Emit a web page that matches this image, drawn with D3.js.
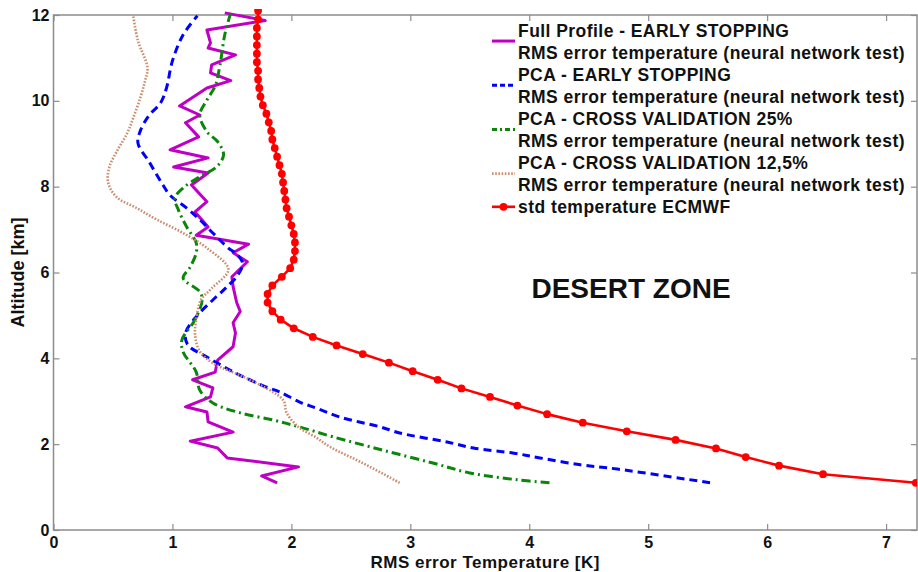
<!DOCTYPE html>
<html>
<head>
<meta charset="utf-8">
<script src="https://cdn.jsdelivr.net/npm/d3@7"></script>
<style>
  html, body { margin: 0; background: #fff; }
  svg { display: block; font-family: "Liberation Sans", Arial, sans-serif; }
</style>
</head>
<body>
<svg id="chart" width="918" height="572"></svg>
<script>
(function () {
  "use strict";

  // --- data (altitude km, RMS K) ---
  const fullAlt = [1.10, 1.26, 1.47, 1.68, 1.91, 2.07, 2.28, 2.52, 2.75, 2.87, 3.10, 3.31, 3.50, 3.68, 3.96, 4.27, 4.59, 4.83, 5.09, 5.30, 5.67, 5.90, 6.25, 6.46, 6.66, 6.87, 7.06, 7.41, 7.65, 8.04, 8.32, 8.46, 8.67, 8.86, 9.16, 9.49, 9.67, 9.88, 10.30, 10.47, 10.65, 10.84, 11.07, 11.23, 11.35, 11.65, 11.87, 12.05];
  const fullRms = [1.88, 1.75, 2.06, 1.46, 1.38, 1.15, 1.51, 1.30, 1.29, 1.11, 1.32, 1.34, 1.17, 1.36, 1.38, 1.51, 1.53, 1.51, 1.57, 1.54, 1.51, 1.50, 1.63, 1.51, 1.64, 1.20, 1.30, 1.19, 1.29, 1.16, 1.30, 1.01, 1.30, 0.98, 1.22, 1.11, 1.23, 1.06, 1.29, 1.49, 1.32, 1.33, 1.53, 1.30, 1.32, 1.29, 1.78, 1.44];

  const pcaEsAlt = [1.10, 1.42, 1.52, 1.68, 1.79, 1.91, 2.05, 2.26, 2.40, 2.63, 2.84, 2.98, 3.22, 3.33, 3.66, 4.03, 4.31, 4.59, 4.97, 5.36, 5.67, 5.94, 6.22, 6.45, 6.57, 6.92, 7.23, 7.50, 7.80, 8.04, 8.55, 9.02, 9.30, 9.65, 9.95, 10.30, 10.93, 11.54, 11.98];
  const pcaEsRms = [5.52, 4.74, 4.43, 4.09, 3.87, 3.53, 3.31, 2.91, 2.75, 2.41, 2.21, 2.07, 1.90, 1.79, 1.53, 1.29, 1.13, 1.11, 1.20, 1.34, 1.46, 1.55, 1.59, 1.53, 1.47, 1.34, 1.23, 1.12, 0.98, 0.92, 0.81, 0.71, 0.73, 0.80, 0.90, 0.95, 1.00, 1.09, 1.21];

  const cv25Alt = [1.10, 1.17, 1.33, 1.56, 1.86, 2.17, 2.40, 2.56, 2.73, 2.96, 3.26, 3.68, 4.15, 4.43, 4.90, 5.36, 5.55, 5.87, 6.13, 6.46, 6.69, 7.06, 7.46, 7.73, 7.97, 8.23, 8.46, 8.74, 9.05, 9.28, 9.67, 10.02, 10.35, 10.84, 11.54, 12.05];
  const cv25Rms = [4.17, 3.90, 3.50, 3.19, 2.77, 2.35, 2.07, 1.85, 1.57, 1.34, 1.23, 1.20, 1.09, 1.08, 1.19, 1.25, 1.23, 1.09, 1.15, 1.20, 1.20, 1.12, 1.05, 1.02, 1.09, 1.23, 1.37, 1.43, 1.38, 1.29, 1.23, 1.29, 1.36, 1.40, 1.44, 1.49];

  const cv125Alt = [1.10, 1.56, 1.93, 2.17, 2.40, 2.73, 3.03, 3.50, 3.89, 4.16, 4.55, 4.90, 5.36, 5.63, 6.07, 6.55, 6.92, 7.23, 7.50, 7.76, 8.09, 8.46, 8.86, 9.25, 9.60, 10.07, 10.47, 10.77, 11.40, 11.98];
  const cv125Rms = [2.91, 2.60, 2.33, 2.20, 2.06, 1.96, 1.93, 1.65, 1.34, 1.23, 1.19, 1.20, 1.24, 1.33, 1.47, 1.30, 1.09, 0.87, 0.70, 0.53, 0.46, 0.47, 0.54, 0.62, 0.67, 0.73, 0.77, 0.79, 0.71, 0.67];

  const stdAlt = [1.1, 1.3, 1.5, 1.7, 1.9, 2.1, 2.3, 2.5, 2.7, 2.9, 3.1, 3.3, 3.5, 3.7, 3.9, 4.1, 4.3, 4.5, 4.7, 4.9, 5.1, 5.3, 5.5, 5.7, 5.9, 6.1, 6.3, 6.5, 6.7, 6.9, 7.1, 7.3, 7.5, 7.7, 7.9, 8.1, 8.3, 8.5, 8.7, 8.9, 9.1, 9.3, 9.5, 9.7, 9.9, 10.1, 10.3, 10.5, 10.7, 10.9, 11.1, 11.3, 11.5, 11.7, 11.9, 12.1];
  const stdTemp = [7.25, 6.47, 6.10, 5.82, 5.57, 5.23, 4.82, 4.45, 4.15, 3.90, 3.67, 3.43, 3.23, 3.02, 2.82, 2.60, 2.38, 2.18, 2.02, 1.91, 1.84, 1.80, 1.80, 1.84, 1.92, 1.99, 2.02, 2.03, 2.03, 2.02, 2.00, 1.98, 1.96, 1.95, 1.94, 1.93, 1.92, 1.90, 1.88, 1.86, 1.84, 1.83, 1.81, 1.79, 1.76, 1.74, 1.73, 1.72, 1.72, 1.71, 1.71, 1.71, 1.71, 1.71, 1.72, 1.72];

  const xTicks = [0, 1, 2, 3, 4, 5, 6, 7];
  const yTicks = [0, 2, 4, 6, 8, 10, 12];

  const legendLabels = [
    ["Full Profile - EARLY STOPPING", "RMS error temperature (neural network test)"],
    ["PCA - EARLY STOPPING", "RMS error temperature (neural network test)"],
    ["PCA - CROSS VALIDATION 25%", "RMS error temperature (neural network test)"],
    ["PCA - CROSS VALIDATION 12,5%", "RMS error temperature (neural network test)"],
    ["std temperature ECMWF"],
  ];

  // --- styles per series ---
  const SERIES = [
    { alt: fullAlt, val: fullRms, color: "#bf00c4", width: 3, dash: null, legendDash: null, curve: d3.curveLinear },
    { alt: pcaEsAlt, val: pcaEsRms, color: "#0000ff", width: 3, dash: "8,5", legendDash: "5,3", curve: d3.curveCatmullRom },
    { alt: cv25Alt, val: cv25Rms, color: "#0a860a", width: 3, dash: "9,4,2,4", legendDash: "5,3,2,3", curve: d3.curveCatmullRom },
    { alt: cv125Alt, val: cv125Rms, color: "#cc8c6e", width: 2.6, dash: "1.6,1.6", legendDash: "1.6,1.6", curve: d3.curveCatmullRom },
    { alt: stdAlt, val: stdTemp, color: "#ff0000", width: 2.6, dash: null, legendDash: null, curve: d3.curveLinear, markers: true },
  ];

  const svg = d3.select("#chart");
  const frameColor = "#8c8c8c";

  const x = d3.scaleLinear().domain([0, 7.26]).range([53.5, 917]);
  const y = d3.scaleLinear().domain([0, 12]).range([530, 15]);

  const [x0, x1] = x.range();
  const [yb, yt] = y.range();

  svg.append("defs").append("clipPath").attr("id", "plot-clip")
    .append("rect")
    .attr("x", x0).attr("y", yt - 6)
    .attr("width", x1 - x0).attr("height", yb - yt + 6);

  // --- axes (inward ticks on all four sides) ---
  function styleAxis(g) {
    g.select(".domain").remove();
    g.selectAll(".tick line").attr("stroke", frameColor).attr("stroke-width", 1.2);
    g.selectAll(".tick text")
      .attr("fill", "#111")
      .style("font-size", "16px")
      .style("font-weight", "bold");
  }

  svg.append("g")
    .attr("transform", `translate(0,${yb})`)
    .call(d3.axisBottom(x).tickValues(xTicks).tickSize(-6).tickPadding(7).tickFormat(d3.format("d")))
    .call(styleAxis);

  svg.append("g")
    .attr("transform", `translate(0,${yt})`)
    .call(d3.axisTop(x).tickValues(xTicks).tickSize(-6).tickFormat(""))
    .call(styleAxis);

  svg.append("g")
    .attr("transform", `translate(${x0},0)`)
    .call(d3.axisLeft(y).tickValues(yTicks).tickSize(-6).tickPadding(4).tickFormat(d3.format("d")))
    .call(styleAxis);

  svg.append("g")
    .attr("transform", `translate(${x1},0)`)
    .call(d3.axisRight(y).tickValues(yTicks).tickSize(-6).tickFormat(""))
    .call(styleAxis);

  svg.append("rect")
    .attr("x", x0).attr("y", yt)
    .attr("width", x1 - x0).attr("height", yb - yt)
    .attr("fill", "none")
    .attr("stroke", frameColor)
    .attr("stroke-width", 1.5);

  // --- curves ---
  const plot = svg.append("g").attr("clip-path", "url(#plot-clip)");

  SERIES.forEach((s) => {
    const pts = s.alt.map((a, i) => [s.val[i], a]);
    const line = d3.line().x((d) => x(d[0])).y((d) => y(d[1])).curve(s.curve);
    plot.append("path")
      .datum(pts)
      .attr("d", line)
      .attr("fill", "none")
      .attr("stroke", s.color)
      .attr("stroke-width", s.width)
      .attr("stroke-linejoin", "round")
      .attr("stroke-dasharray", s.dash);
    if (s.markers) {
      plot.append("g").selectAll("circle")
        .data(pts)
        .join("circle")
        .attr("cx", (d) => x(d[0]))
        .attr("cy", (d) => y(d[1]))
        .attr("r", 3.9)
        .attr("fill", s.color);
    }
  });

  // --- legend ---
  const legend = svg.append("g").attr("class", "legend");
  const rowStep = 22.1;
  let row = 0;
  legendLabels.forEach((lines, i) => {
    const s = SERIES[i];
    const top = 30 + row * rowStep;
    const lineY = lines.length > 1 ? top + rowStep / 2 : top;
    legend.append("line")
      .attr("x1", 492).attr("x2", 515)
      .attr("y1", lineY).attr("y2", lineY)
      .attr("stroke", s.color)
      .attr("stroke-width", s.width)
      .attr("stroke-dasharray", s.legendDash);
    if (s.markers) {
      legend.append("circle").attr("cx", 503.5).attr("cy", lineY).attr("r", 3.9).attr("fill", s.color);
    }
    lines.forEach((t, j) => {
      legend.append("text")
        .attr("x", 518)
        .attr("y", top + j * rowStep + 6.5)
        .attr("fill", "#111")
        .style("font-size", "17.5px")
        .style("font-weight", "bold")
        .style("letter-spacing", "0.45px")
        .text(t);
    });
    row += lines.length;
  });

  // --- titles ---
  svg.append("text")
    .attr("x", 631).attr("y", 298)
    .attr("text-anchor", "middle")
    .attr("fill", "#111")
    .style("font-size", "28px")
    .style("font-weight", "bold")
    .text("DESERT ZONE");

  svg.append("text")
    .attr("x", (x0 + x1) / 2).attr("y", 568)
    .attr("text-anchor", "middle")
    .attr("fill", "#111")
    .style("font-size", "17px")
    .style("font-weight", "bold")
    .style("letter-spacing", "0.5px")
    .text("RMS error Temperature [K]");

  svg.append("text")
    .attr("transform", `translate(24,${(yt + yb) / 2}) rotate(-90)`)
    .attr("text-anchor", "middle")
    .attr("fill", "#111")
    .style("font-size", "18px")
    .style("font-weight", "bold")
    .text("Altitude [km]");
})();
</script>
</body>
</html>
